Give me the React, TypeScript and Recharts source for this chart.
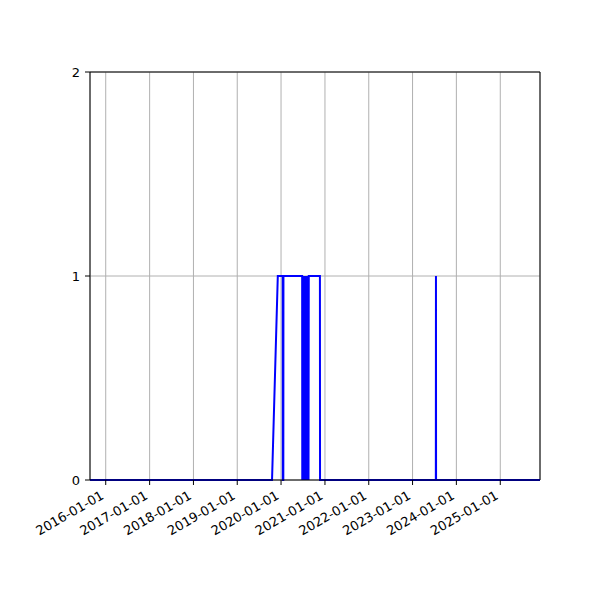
import React from "react"
import {
  LineChart,
  Line,
  XAxis,
  YAxis,
  CartesianGrid,
  ReferenceLine,
} from "recharts"

const dates = [
  "2015-08-23",
  "2019-10-18",
  "2019-12-05",
  "2020-01-15",
  "2020-01-16",
  "2020-01-20",
  "2020-01-21",
  "2020-06-25",
  "2020-06-26",
  "2020-06-28",
  "2020-06-30",
  "2020-07-02",
  "2020-07-04",
  "2020-07-06",
  "2020-07-08",
  "2020-07-10",
  "2020-07-12",
  "2020-07-14",
  "2020-07-16",
  "2020-07-18",
  "2020-07-20",
  "2020-07-22",
  "2020-07-24",
  "2020-07-26",
  "2020-07-28",
  "2020-07-30",
  "2020-08-01",
  "2020-08-03",
  "2020-08-05",
  "2020-08-07",
  "2020-08-09",
  "2020-08-11",
  "2020-08-13",
  "2020-08-15",
  "2020-08-17",
  "2020-08-19",
  "2020-11-20",
  "2020-11-21",
  "2023-07-14",
  "2023-07-15",
  "2023-07-16",
  "2025-11-28",
]

const values = [
  0, 0, 1, 1, 0, 0, 1, 1,
  0, 1, 0, 1, 0, 1, 0, 1, 0, 1, 0, 1, 0, 1, 0, 1, 0, 1, 0, 1, 0, 1, 0, 1, 0, 1, 0, 1,
  1, 0,
  0, 1, 0,
  0,
]

const tickYears = [2016, 2017, 2018, 2019, 2020, 2021, 2022, 2023, 2024, 2025]
const yTicks = [0, 1, 2]

const xStart = Date.parse("2015-08-23")
const xEnd = Date.parse("2025-11-28")
const xTicks = tickYears.map((y) => Date.UTC(y, 0, 1))

const data = dates.map((d, i) => ({ t: Date.parse(d), v: values[i] }))

const FONT = "DejaVu Sans, sans-serif"

function DateTick(props: any) {
  const { x, y, payload } = props
  const d = new Date(payload.value)
  const label = `${d.getUTCFullYear()}-01-01`
  return (
    <g transform={`translate(${x - 1},${y + 13})`}>
      <text
        x={0}
        y={0}
        textAnchor="end"
        transform="rotate(-30)"
        fontSize={13}
        fontFamily={FONT}
        fill="#000"
      >
        {label}
      </text>
    </g>
  )
}

export default function App() {
  return (
    <div style={{ position: "absolute", left: 0, top: 0, width: 600, height: 600, background: "#fff" }}>
      <LineChart
        width={600}
        height={600}
        data={data}
        margin={{ top: 72, right: 60, left: 0, bottom: 60 }}
      >
        <CartesianGrid stroke="#b0b0b0" strokeWidth={1} />
        <XAxis
          dataKey="t"
          type="number"
          domain={[xStart, xEnd]}
          allowDataOverflow
          ticks={xTicks}
          interval={0}
          height={60}
          tickSize={5}
          tickMargin={0}
          axisLine={{ stroke: "#000" }}
          tickLine={{ stroke: "#000" }}
          tick={(p: any) => <DateTick {...p} />}
        />
        <YAxis
          type="number"
          domain={[0, 2]}
          ticks={yTicks}
          interval={0}
          width={90}
          tickSize={5}
          tickMargin={5}
          axisLine={{ stroke: "#000" }}
          tickLine={{ stroke: "#000" }}
          tick={{ fill: "#000", fontSize: 13, fontFamily: FONT }}
        />
        <ReferenceLine y={2} stroke="#000" />
        <ReferenceLine x={xEnd} stroke="#000" />
        <Line
          type="linear"
          dataKey="v"
          stroke="#0000ff"
          strokeWidth={2}
          dot={false}
          isAnimationActive={false}
        />
      </LineChart>
    </div>
  )
}
